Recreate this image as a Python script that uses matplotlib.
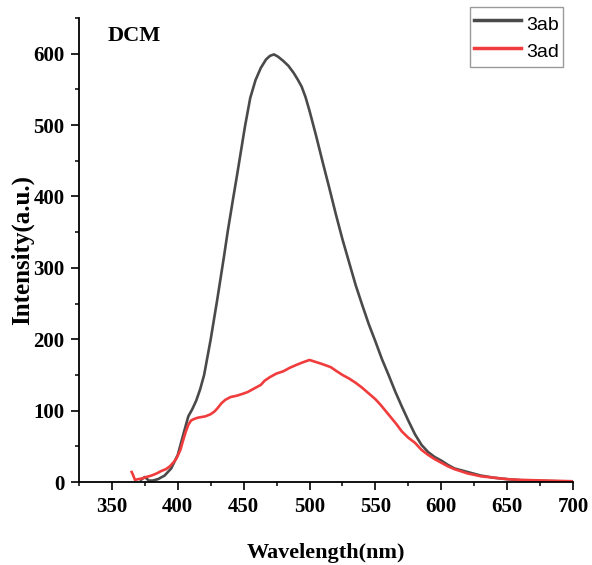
import matplotlib
matplotlib.use("Agg")
import matplotlib.pyplot as plt
from matplotlib.ticker import MultipleLocator

# Emission spectra in DCM
wl_3ab = [372, 375, 378, 381, 385, 390, 395, 400, 405, 408, 411, 414, 417, 420,
          422, 425, 430, 435, 438, 442, 445, 448, 451, 455, 459, 463, 467, 470,
          473, 476, 480, 484, 488, 491, 494, 497, 500, 505, 510, 515, 520, 525,
          530, 535, 540, 545, 550, 555, 560, 565, 570, 575, 580, 585, 590, 595,
          600, 605, 610, 620, 630, 640, 650, 660, 675, 690, 700]
int_3ab = [3, 7, 2, 2, 4, 9, 19, 38, 72, 92, 102, 114, 130, 150,
           170, 200, 256, 315, 352, 397, 430, 464, 498, 538, 563, 580, 592, 597,
           599, 596, 590, 583, 573, 564, 554, 539, 520, 485, 448, 412, 375, 340,
           308, 276, 248, 221, 197, 172, 150, 127, 106, 86, 67, 52, 42, 35,
           30, 24, 19, 14, 9, 6, 4, 2.5, 1.5, 1, 1]

wl_3ad = [365, 366, 367.5, 370, 373, 376, 380, 384, 387, 391, 394, 397, 399, 402,
          404, 406, 408, 410, 412, 415, 418, 421, 425, 428, 430, 433, 436, 440,
          445, 450, 453, 457, 460, 463, 466, 470, 475, 480, 485, 490, 494, 497,
          500, 505, 510, 516, 520, 525, 530, 535, 540, 545, 550, 554, 558, 562,
          566, 570, 575, 580, 585, 590, 595, 600, 605, 610, 615, 620, 630, 640,
          650, 660, 680, 700]
int_3ad = [14, 10, 3, 4, 5, 7, 9, 12, 15, 18, 22, 28, 33, 45,
           58, 70, 80, 86, 88, 90, 91, 92, 95, 99, 103, 110, 115, 119,
           121, 124, 126, 130, 133, 136, 142, 147, 152, 155, 160, 164, 167, 169,
           171, 168, 165, 161, 156, 150, 145, 139, 132, 124, 116, 108, 99, 90,
           81, 71, 62, 55, 45, 38, 32, 27, 22, 18, 15, 12, 8, 6,
           4, 3, 2, 1]

series_names = ["3ab", "3ad"]
series_colors = ["#4a4a4a", "#f03c3c"]

serif = ["Liberation Serif", "DejaVu Serif"]

fig = plt.figure(figsize=(5.92, 5.65), dpi=100)
ax = fig.add_axes([0.1334, 0.1469, 0.8345, 0.8212])

ax.plot(wl_3ab, int_3ab, color=series_colors[0], lw=1.9, label=series_names[0])
ax.plot(wl_3ad, int_3ad, color=series_colors[1], lw=1.9, label=series_names[1])

ax.set_xlim(325, 700)
ax.set_ylim(0, 650)
ax.xaxis.set_major_locator(MultipleLocator(50))
ax.xaxis.set_minor_locator(MultipleLocator(25))
ax.yaxis.set_major_locator(MultipleLocator(100))
ax.yaxis.set_minor_locator(MultipleLocator(50))

for side in ("top", "right"):
    ax.spines[side].set_visible(False)
for side in ("left", "bottom"):
    ax.spines[side].set_linewidth(1.3)

ax.tick_params(which="major", direction="out", length=5.5, width=1.2, pad=5)
ax.tick_params(which="minor", direction="out", length=3, width=1.1)
for lab in ax.get_xticklabels() + ax.get_yticklabels():
    lab.set_fontfamily(serif)
    lab.set_fontweight("bold")
    lab.set_fontsize(15)

ax.set_xlabel("Wavelength(nm)", family=serif, fontweight="bold", fontsize=16, labelpad=19)
ax.set_ylabel("Intensity(a.u.)", family=serif, fontweight="bold", fontsize=18, labelpad=-1)

ax.text(0.059, 0.961, "DCM", transform=ax.transAxes, family=serif,
        fontweight="bold", fontsize=16, ha="left", va="center")

leg = ax.legend(loc="upper right", bbox_to_anchor=(563 / 592, 1 - 7 / 565),
                bbox_transform=fig.transFigure, borderaxespad=0,
                prop={"family": ["Liberation Sans", "DejaVu Sans"], "size": 14},
                handlelength=2.45, handleheight=1.6, handletextpad=0.26,
                borderpad=0.2, labelspacing=0.12, fancybox=False, framealpha=1)
leg.get_frame().set_edgecolor("#9a9a9a")
leg.get_frame().set_linewidth(1.0)
for line in leg.get_lines():
    line.set_linewidth(2.5)

fig.savefig("out.png", dpi=100)
